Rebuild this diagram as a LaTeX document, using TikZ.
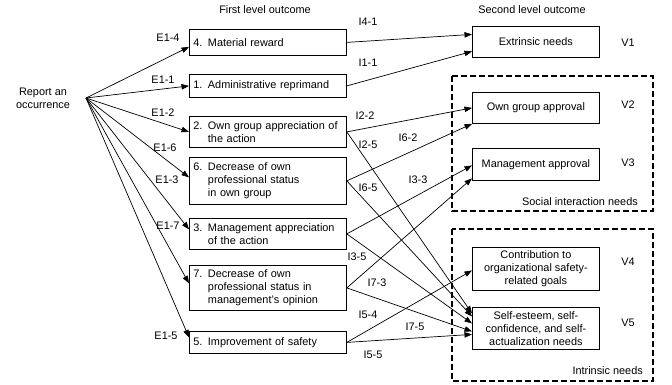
\documentclass[tikz,border=0pt]{standalone}
\usepackage{fontspec}
\setmainfont{Liberation Sans}
\usetikzlibrary{arrows.meta,calc}
\begin{document}
\begin{tikzpicture}[x=1pt,y=-1pt,
  font=\fontsize{10.9}{13}\selectfont,
  lbox/.style={draw, line width=0.8pt, anchor=north west, inner ysep=0pt, inner xsep=4pt, text width=149pt, align=left},
  rbox/.style={draw, line width=0.8pt, anchor=north west, inner sep=0pt, minimum width=127pt, align=center},
  arr/.style={line width=0.7pt, -{Triangle[length=7.5pt,width=5.5pt]}},
  grp/.style={draw, line width=1.3pt, dash pattern=on 6pt off 3pt},
  lab/.style={inner sep=0pt}
]
\useasboundingbox (0,0) rectangle (672,384);

% headers
\node[lab] (h1) at (265,10) {First level outcome};
\node[lab] (h2) at (532,10) {Second level outcome};

% source
\node[lab, align=center] (rep) at (43,98) {Report an\\occurrence};
\coordinate (src) at (86,98);

% first level boxes
\node[lbox, minimum height=26pt] (b4) at (189,29) {4. Material reward};
\node[lbox, minimum height=23pt] (b1) at (189,74) {1. Administrative reprimand};
\node[lbox, minimum height=31pt] (b2) at (189,116) {2. Own group appreciation of\\\hphantom{2. }the action};
\node[lbox, minimum height=47pt] (b6) at (189,157) {6. Decrease of own\\\hphantom{6. }professional status\\\hphantom{6. }in own group};
\node[lbox, minimum height=31pt] (b3) at (189,218) {3. Management appreciation\\\hphantom{3. }of the action};
\node[lbox, minimum height=45pt] (b7) at (189,265) {7. Decrease of own\\\hphantom{7. }professional status in\\\hphantom{7. }management’s opinion};
\node[lbox, minimum height=22pt] (b5) at (189,331) {5. Improvement of safety};

% group frames
\draw[grp] (452,76) rectangle (653,211);
\draw[grp] (452,229) rectangle (653,381);
\node[lab, anchor=east] (gsoc) at (638,202) {Social interaction needs};
\node[lab, anchor=east] (gint) at (643,371) {Intrinsic needs};

% second level boxes
\node[rbox, minimum height=31pt] (ext) at (472,26) {Extrinsic needs};
\node[rbox, minimum height=31pt] (og) at (472,92) {Own group approval};
\node[rbox, minimum height=32pt] (ma) at (472,148) {Management approval};
\node[rbox, minimum height=43pt] (ct) at (472,247) {Contribution to\\organizational safety-\\related goals};
\node[rbox, minimum height=42pt] (se) at (472,307) {Self-esteem, self-\\confidence, and self-\\actualization needs};

% valences
\node[lab] (v1) at (628,43) {V1};
\node[lab] (v2) at (628,105) {V2};
\node[lab] (v3) at (628,163) {V3};
\node[lab] (v4) at (628,262) {V4};
\node[lab] (v5) at (628,323) {V5};

% expectancy arrows
\draw[arr] (src) -- ($(b4.west)+(0,4.5)$);
\draw[arr] (src) -- (b1.west);
\draw[arr] (src) -- (b2.west);
\draw[arr] (src) -- ($(b6.west)+(0,-3.5)$);
\draw[arr] (src) -- ($(b3.west)+(0,-4.5)$);
\draw[arr] (src) -- ($(b7.west)+(0,-4.5)$);
\draw[arr] (src) -- ($(b5.west)+(0,-5)$);

\node[lab] (e14) at (168,38) {E1-4};
\node[lab] (e11) at (163,80) {E1-1};
\node[lab] (e12) at (163,113) {E1-2};
\node[lab] (e16) at (165,148) {E1-6};
\node[lab] (e13) at (167,180) {E1-3};
\node[lab] (e17) at (168,226) {E1-7};
\node[lab] (e15) at (166,336) {E1-5};

% instrumentality arrows
\draw[arr] (b4.east) -- ($(ext.west)+(0,-7.5)$);
\draw[arr] (b1.east) -- ($(ext.west)+(0,9.5)$);
\draw[arr] (b2.east) -- (og.west);
\draw[arr] (b2.east) -- ($(se.west)+(0,-15)$);
\draw[arr] (b6.east) -- (og.south west);
\draw[arr] (b6.east) -- ($(se.west)+(0,-12)$);
\draw[arr] (b3.east) -- ($(ma.west)+(0,1)$);
\draw[arr] (b3.east) -- ($(se.west)+(0,-5)$);
\draw[arr] (b7.east) -- ($(ma.west)+(0,14)$);
\draw[arr] (b7.east) -- ($(se.west)+(0,3)$);
\draw[arr] (b5.east) -- ($(ct.west)+(0,1.5)$);
\draw[arr] (b5.east) -- ($(se.west)+(0,6)$);

\node[lab] (i41) at (368,22) {I4-1};
\node[lab] (i11) at (368,63) {I1-1};
\node[lab] (i22) at (365,116) {I2-2};
\node[lab] (i25) at (368,145) {I2-5};
\node[lab] (i62) at (408,138) {I6-2};
\node[lab] (i33) at (418,180) {I3-3};
\node[lab] (i65) at (368,188) {I6-5};
\node[lab] (i35) at (357,257) {I3-5};
\node[lab] (i73) at (377,283) {I7-3};
\node[lab] (i54) at (368,315) {I5-4};
\node[lab] (i75) at (415,327) {I7-5};
\node[lab] (i55) at (373,355) {I5-5};
\end{tikzpicture}
\end{document}
